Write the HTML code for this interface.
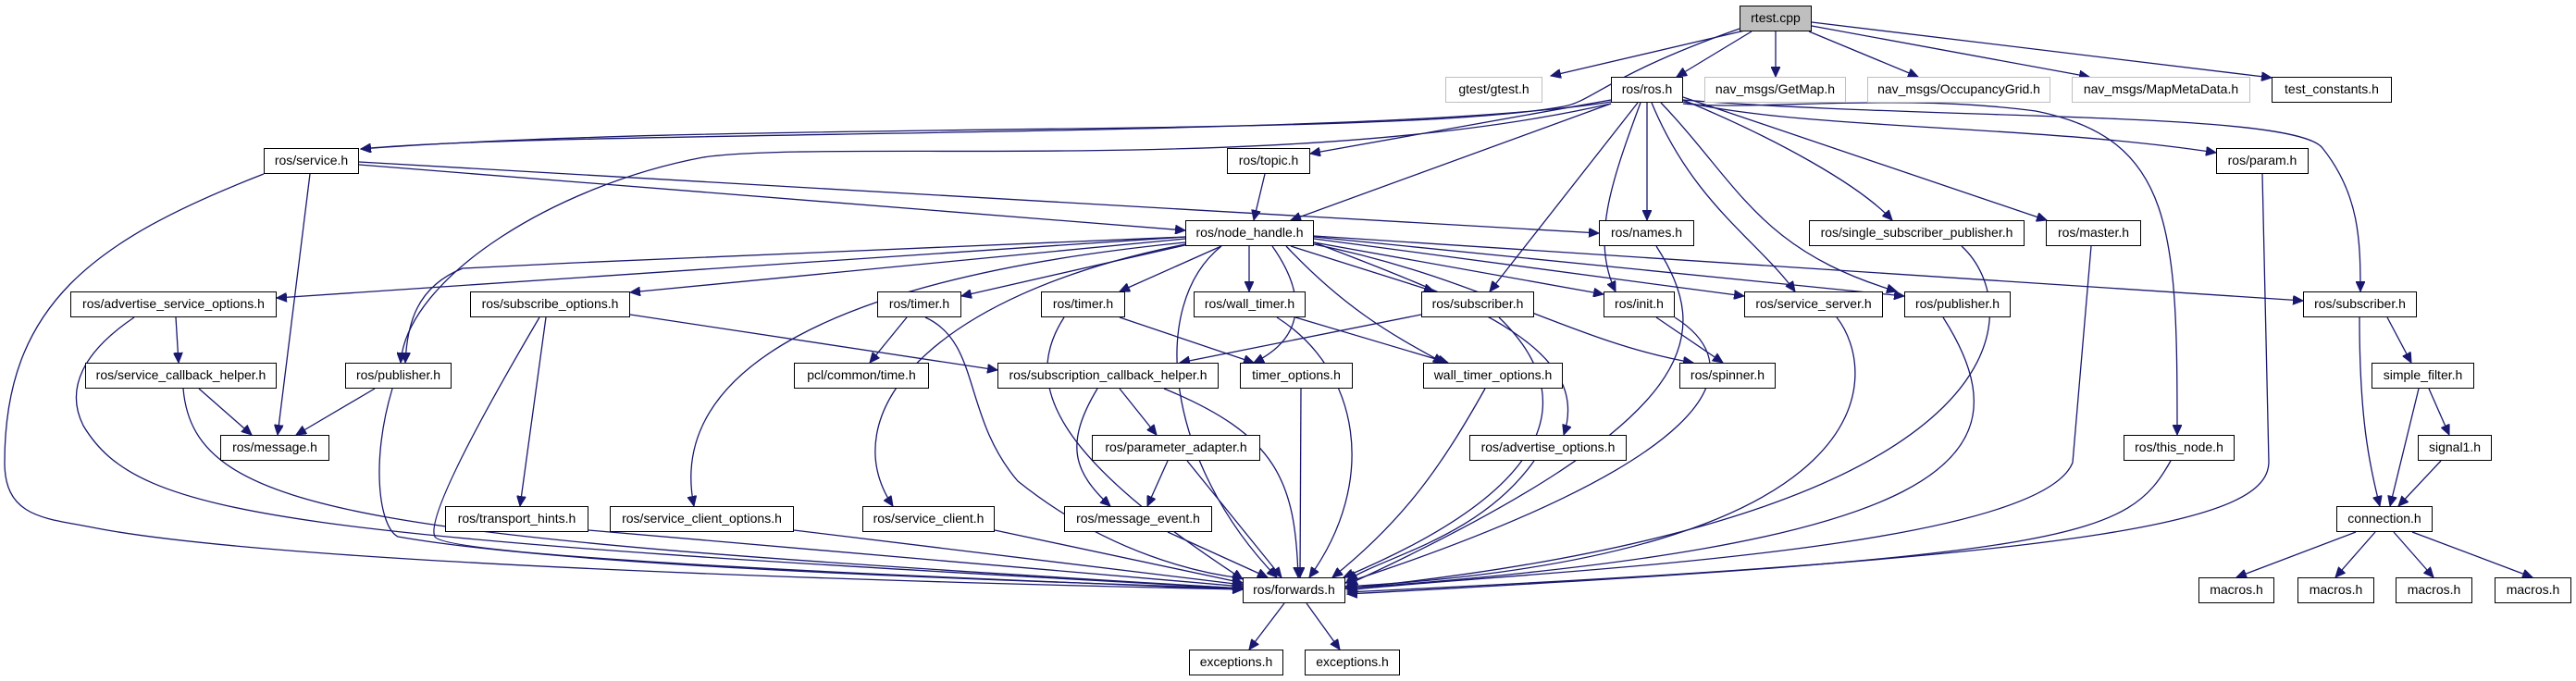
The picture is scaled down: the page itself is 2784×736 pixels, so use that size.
<!DOCTYPE html>
<html><head><meta charset="utf-8"><style>
body{margin:0;width:2784px;height:736px;background:#fff;position:relative;overflow:hidden;font-family:"Liberation Sans","DejaVu Sans",sans-serif}
.n{position:absolute;height:28px;box-sizing:border-box;border:1.5px solid #000;background:#fff;font-size:14px;line-height:25px;text-align:center;white-space:nowrap;color:#000;z-index:2}
.g{border-color:#bfbfbf}
svg{position:absolute;left:0;top:0;z-index:1}
path{fill:none;stroke:#191970;stroke-width:1.3}
</style></head><body>
<svg width="2784" height="736" viewBox="0 0 2784 736">
<defs><marker id="a" markerUnits="userSpaceOnUse" markerWidth="12" markerHeight="10" refX="11" refY="5" orient="auto"><path d="M0,0 L11,5 L0,10 z" style="fill:#191970;stroke:#191970;stroke-width:1"/></marker></defs>
<g marker-end="url(#a)">
<path d="M1890,32 L1676,82"/>
<path d="M1893,34 L1812,83"/>
<path d="M1919,34 L1919,83"/>
<path d="M1955,34 L2073,83"/>
<path d="M1958,28 L2258,83"/>
<path d="M1958,24 L2455,84"/>
<path d="M1880,31 C1740,80 1720,110 1690,115 C1500,150 800,130 390,161"/>
<path d="M1741,110 C1500,150 600,140 390,161"/>
<path d="M1741,112 C1400,190 900,150 760,170 C600,200 440,300 433,392"/>
<path d="M1741,108 L1416,166"/>
<path d="M1741,112 L1395,238"/>
<path d="M1780,111 L1780,238"/>
<path d="M1770,111 L1610,315"/>
<path d="M1773,111 C1740,200 1720,260 1746,315"/>
<path d="M1785,111 C1830,220 1900,260 1940,315"/>
<path d="M1795,111 C1880,200 1900,270 2050,315"/>
<path d="M1819,108 C1920,150 2010,200 2045,238"/>
<path d="M1819,105 L2212,238"/>
<path d="M1819,110 C1950,140 2200,135 2395,165"/>
<path d="M1819,108 C2100,130 2480,120 2510,160 C2550,210 2551,260 2551,315"/>
<path d="M1819,112 C1900,120 2050,100 2200,120 C2350,150 2353,250 2353,470"/>
<path d="M388,178 L1281,249"/>
<path d="M388,175 L1728,252"/>
<path d="M335,188 L300,470"/>
<path d="M285,188 C100,260 5,330 5,500 C5,560 50,560 100,570 C300,610 1000,630 1343,637"/>
<path d="M1367,188 L1355,238"/>
<path d="M1281,256 L299,322"/>
<path d="M1281,258 L681,316"/>
<path d="M1281,256 C800,275 700,280 500,290 C450,310 440,350 438,392"/>
<path d="M1285,264 L1039,320"/>
<path d="M1320,266 L1210,315"/>
<path d="M1350,266 L1350,315"/>
<path d="M1395,266 L1550,315"/>
<path d="M1420,262 L1733,318"/>
<path d="M1420,258 L1885,320"/>
<path d="M1420,256 L2058,320"/>
<path d="M1420,255 L2489,325"/>
<path d="M1375,266 C1420,330 1400,370 1355,392"/>
<path d="M1390,266 C1450,330 1500,360 1560,392"/>
<path d="M1420,264 C1600,300 1700,370 1830,392"/>
<path d="M1420,262 C1600,330 1720,380 1690,470"/>
<path d="M1281,262 C900,300 720,400 750,547"/>
<path d="M1281,264 C1000,320 900,450 965,547"/>
<path d="M1320,266 C1240,330 1260,500 1380,624"/>
<path d="M681,340 L1078,400"/>
<path d="M590,343 L562,547"/>
<path d="M583,343 C520,450 460,560 470,580 C480,600 900,620 1343,637"/>
<path d="M190,343 L193,392"/>
<path d="M145,343 C90,380 70,420 90,460 C150,560 300,580 1343,636"/>
<path d="M215,420 L272,470"/>
<path d="M198,420 C210,560 400,580 1343,636"/>
<path d="M405,420 L320,470"/>
<path d="M424,420 C400,500 410,570 430,580 C600,610 1000,625 1343,636"/>
<path d="M980,343 L940,392"/>
<path d="M1000,343 C1060,370 1040,450 1100,520 C1200,600 1300,620 1343,625"/>
<path d="M1210,343 L1355,392"/>
<path d="M1150,343 C1100,420 1150,500 1343,626"/>
<path d="M1400,343 L1565,392"/>
<path d="M1380,343 C1470,400 1490,520 1415,624"/>
<path d="M1536,340 L1275,392"/>
<path d="M1620,343 C1700,420 1700,520 1452,624"/>
<path d="M1790,343 L1862,392"/>
<path d="M1810,343 C1900,400 1850,500 1454,630"/>
<path d="M1985,343 C2030,400 2050,600 1454,634"/>
<path d="M2100,343 C2200,500 2100,590 1454,636"/>
<path d="M2580,343 L2606,392"/>
<path d="M2550,343 C2550,450 2560,500 2572,547"/>
<path d="M2625,420 L2647,470"/>
<path d="M2614,420 L2583,547"/>
<path d="M2638,498 L2592,547"/>
<path d="M2546,575 L2417,624"/>
<path d="M2567,575 L2524,624"/>
<path d="M2587,575 L2630,624"/>
<path d="M2607,575 L2737,624"/>
<path d="M1210,420 L1250,470"/>
<path d="M1186,420 C1150,480 1160,510 1200,547"/>
<path d="M1258,420 C1380,470 1400,520 1403,624"/>
<path d="M1262,498 L1240,547"/>
<path d="M1283,498 L1385,624"/>
<path d="M1262,575 L1370,624"/>
<path d="M1406,420 L1405,624"/>
<path d="M1605,420 C1560,500 1520,560 1440,624"/>
<path d="M1658,498 C1600,580 1500,600 1456,627"/>
<path d="M1075,573 L1343,630"/>
<path d="M858,573 L1343,632"/>
<path d="M636,573 L1343,634"/>
<path d="M1790,266 C1850,360 1850,450 1456,632"/>
<path d="M2120,266 C2190,330 2200,560 1456,636"/>
<path d="M2260,266 L2240,500 C2200,600 1600,620 1456,638"/>
<path d="M2445,188 L2452,500 C2450,560 2300,600 1456,640"/>
<path d="M2346,498 C2300,580 2250,600 1456,642"/>
<path d="M1388,652 L1350,702"/>
<path d="M1412,652 L1448,702"/>
</g></svg>
<div class="n" style="left:1880px;top:6px;width:78px;background:#bfbfbf">rtest.cpp</div>
<div class="n g" style="left:1562px;top:83px;width:105px">gtest/gtest.h</div>
<div class="n" style="left:1741px;top:83px;width:78px">ros/ros.h</div>
<div class="n g" style="left:1842px;top:83px;width:153px">nav_msgs/GetMap.h</div>
<div class="n g" style="left:2018px;top:83px;width:198px">nav_msgs/OccupancyGrid.h</div>
<div class="n g" style="left:2239px;top:83px;width:193px">nav_msgs/MapMetaData.h</div>
<div class="n" style="left:2455px;top:83px;width:130px">test_constants.h</div>
<div class="n" style="left:285px;top:160px;width:103px">ros/service.h</div>
<div class="n" style="left:1326px;top:160px;width:90px">ros/topic.h</div>
<div class="n" style="left:2395px;top:160px;width:100px">ros/param.h</div>
<div class="n" style="left:1281px;top:238px;width:139px">ros/node_handle.h</div>
<div class="n" style="left:1728px;top:238px;width:103px">ros/names.h</div>
<div class="n" style="left:1955px;top:238px;width:233px">ros/single_subscriber_publisher.h</div>
<div class="n" style="left:2211px;top:238px;width:103px">ros/master.h</div>
<div class="n" style="left:76px;top:315px;width:223px">ros/advertise_service_options.h</div>
<div class="n" style="left:508px;top:315px;width:173px">ros/subscribe_options.h</div>
<div class="n" style="left:948px;top:315px;width:91px">ros/timer.h</div>
<div class="n" style="left:1125px;top:315px;width:91px">ros/timer.h</div>
<div class="n" style="left:1290px;top:315px;width:121px">ros/wall_timer.h</div>
<div class="n" style="left:1536px;top:315px;width:122px">ros/subscriber.h</div>
<div class="n" style="left:1733px;top:315px;width:77px">ros/init.h</div>
<div class="n" style="left:1885px;top:315px;width:150px">ros/service_server.h</div>
<div class="n" style="left:2058px;top:315px;width:115px">ros/publisher.h</div>
<div class="n" style="left:2489px;top:315px;width:123px">ros/subscriber.h</div>
<div class="n" style="left:92px;top:392px;width:207px">ros/service_callback_helper.h</div>
<div class="n" style="left:373px;top:392px;width:115px">ros/publisher.h</div>
<div class="n" style="left:858px;top:392px;width:146px">pcl/common/time.h</div>
<div class="n" style="left:1078px;top:392px;width:239px">ros/subscription_callback_helper.h</div>
<div class="n" style="left:1340px;top:392px;width:122px">timer_options.h</div>
<div class="n" style="left:1538px;top:392px;width:151px">wall_timer_options.h</div>
<div class="n" style="left:1815px;top:392px;width:104px">ros/spinner.h</div>
<div class="n" style="left:2563px;top:392px;width:111px">simple_filter.h</div>
<div class="n" style="left:238px;top:470px;width:118px">ros/message.h</div>
<div class="n" style="left:1180px;top:470px;width:182px">ros/parameter_adapter.h</div>
<div class="n" style="left:1588px;top:470px;width:170px">ros/advertise_options.h</div>
<div class="n" style="left:2295px;top:470px;width:120px">ros/this_node.h</div>
<div class="n" style="left:2613px;top:470px;width:80px">signal1.h</div>
<div class="n" style="left:481px;top:547px;width:155px">ros/transport_hints.h</div>
<div class="n" style="left:659px;top:547px;width:199px">ros/service_client_options.h</div>
<div class="n" style="left:932px;top:547px;width:143px">ros/service_client.h</div>
<div class="n" style="left:1150px;top:547px;width:160px">ros/message_event.h</div>
<div class="n" style="left:2525px;top:547px;width:104px">connection.h</div>
<div class="n" style="left:1343px;top:624px;width:111px">ros/forwards.h</div>
<div class="n" style="left:2376px;top:624px;width:82px">macros.h</div>
<div class="n" style="left:2483px;top:624px;width:83px">macros.h</div>
<div class="n" style="left:2589px;top:624px;width:83px">macros.h</div>
<div class="n" style="left:2696px;top:624px;width:83px">macros.h</div>
<div class="n" style="left:1285px;top:702px;width:102px">exceptions.h</div>
<div class="n" style="left:1410px;top:702px;width:103px">exceptions.h</div>
</body></html>
